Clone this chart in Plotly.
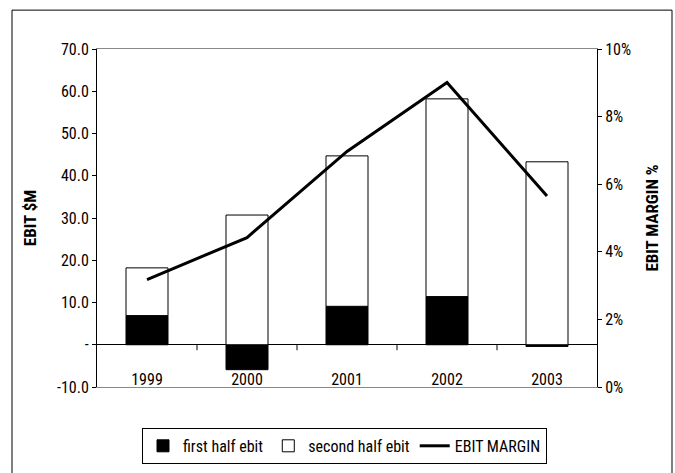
import plotly.graph_objects as go

years = ["1999", "2000", "2001", "2002", "2003"]
first_half = [6.9, -5.9, 9.1, 11.4, -0.4]
second_half = [11.3, 30.7, 35.6, 46.8, 43.3]
ebit_margin = [3.18, 4.42, 6.97, 9.01, 5.65]

left_ticks = [-10, 0, 10, 20, 30, 40, 50, 60, 70]
left_labels = ["-10.0", "-", "10.0", "20.0", "30.0", "40.0", "50.0", "60.0", "70.0"]
right_ticks = [0, 2, 4, 6, 8, 10]
right_labels = ["0%", "2%", "4%", "6%", "8%", "10%"]

FONT = "Roboto Condensed, DejaVu Sans Condensed, Arial Narrow, sans-serif"
FS = 16

fig = go.Figure()
fig.add_trace(go.Bar(x=years, y=first_half, name="first half ebit",
                     marker=dict(color="black", line=dict(color="black", width=1)),
                     width=0.42))
fig.add_trace(go.Bar(x=years, y=second_half, name="second half ebit",
                     marker=dict(color="white", line=dict(color="black", width=1)),
                     width=0.42))
fig.add_trace(go.Scatter(x=years, y=ebit_margin, name="EBIT MARGIN", yaxis="y2",
                         mode="lines", line=dict(color="black", width=3)))
# invisible carrier trace so the category label axis (x2) is drawn
fig.add_trace(go.Scatter(x=years, y=first_half, xaxis="x2", mode="markers",
                         marker=dict(opacity=0, size=1), showlegend=False,
                         hoverinfo="skip"))

# tick marks on the zero line between categories
for b in [0.5, 1.5, 2.5, 3.5]:
    fig.add_shape(type="line", xref="x", yref="y", x0=b, x1=b, y0=0, y1=-1.3,
                  line=dict(color="black", width=1))

# outer chart border
fig.add_shape(type="rect", xref="paper", yref="paper", x0=-0.17, x1=1.15,
              y0=-0.4, y1=1.115, line=dict(color="black", width=1), layer="below")

fig.update_layout(
    width=675, height=473,
    margin=dict(l=97, r=78, t=49, b=86, autoexpand=False),
    paper_bgcolor="white", plot_bgcolor="white",
    barmode="relative",
    font=dict(family=FONT, size=FS, color="black"),
    showlegend=True,
    legend=dict(orientation="h", x=0.495, xanchor="center", y=-0.121, yanchor="top",
                bordercolor="black", borderwidth=1, font=dict(size=FS),
                itemwidth=30, traceorder="normal"),
    xaxis=dict(type="category", showline=True, mirror=True, linecolor="#888888",
               linewidth=1, ticks="", showticklabels=False, showgrid=False),
    xaxis2=dict(type="category", overlaying="x", anchor="free", position=0.055,
                side="bottom", range=[-0.5, len(years) - 0.5],
                showline=False, ticks="", showgrid=False, zeroline=False,
                tickfont=dict(size=FS)),
    yaxis=dict(range=[-10, 70], tickvals=left_ticks, ticktext=left_labels,
               showline=True, linecolor="black", linewidth=1, ticks="outside",
               ticklen=4, tickcolor="black", showgrid=False,
               zeroline=True, zerolinecolor="black", zerolinewidth=1,
               title=dict(text="<b>EBIT $M</b>", font=dict(size=17)),
               tickfont=dict(size=FS)),
    yaxis2=dict(range=[0, 10], tickmode="array", tickvals=right_ticks, ticktext=right_labels,
                overlaying="y", side="right", showline=True, linecolor="black",
                linewidth=1, ticks="outside", ticklen=4, tickcolor="black",
                showgrid=False, zeroline=False,
                title=dict(text="<b>EBIT MARGIN %</b>", font=dict(size=17)),
                tickfont=dict(size=FS)),
)

fig.write_html("out.html", config={"displayModeBar": False},
               post_script="document.body.style.margin='0';")
